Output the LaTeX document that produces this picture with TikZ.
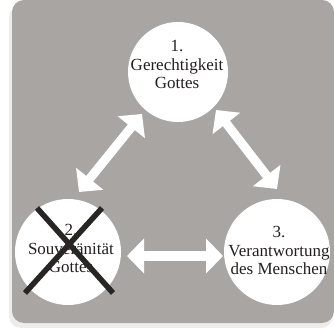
\documentclass[tikz,border=0pt]{standalone}
\usepackage{fontspec}
\setmainfont{Liberation Serif}
\usetikzlibrary{arrows.meta}
\definecolor{cardgray}{HTML}{A9A5A2}
\definecolor{shadowgray}{HTML}{EDECEB}
\definecolor{inkdark}{HTML}{231F20}
\definecolor{crossdark}{HTML}{2A2525}
\begin{document}
\begin{tikzpicture}[x=1pt,y=-1pt,
  disc/.style={circle,fill=white,inner sep=0pt},
  lbl/.style={align=center,text=inkdark,font=\fontsize{17}{18.5}\selectfont,inner sep=0pt},
  dblarrow/.style={white,line width=9pt,{Triangle[length=17pt,width=34pt]}-{Triangle[length=17pt,width=34pt]}},
  crossline/.style={crossdark,line width=5.5pt}]
\useasboundingbox (0,0) rectangle (334,328);
\fill[shadowgray, rounded corners=12pt] (9,6) rectangle (333,328);
\fill[cardgray, rounded corners=12pt] (12,0) rectangle (334,323);
% circles
\node[disc,minimum size=100pt] (top) at (178,72) {};
\node[disc,minimum size=106pt] (left) at (68,252) {};
\node[disc,minimum size=106pt] (right) at (277,252) {};
% labels
\node[lbl] (t1) at (177,64.5) {1.\\Gerechtigkeit\\Gottes};
\node[lbl] (t2) at (71,248.5) {2.\\Souveränität\\Gottes};
\node[lbl] (t3) at (279,250.5) {3.\\Verantwortung\\des Menschen};
% arrows
\coordinate (a1) at (79,192); \coordinate (a2) at (142,114);
\coordinate (b1) at (216,110); \coordinate (b2) at (277,189);
\coordinate (c1) at (127,256); \coordinate (c2) at (223,256);
\draw[dblarrow] (a1) -- (a2);
\draw[dblarrow] (b1) -- (b2);
\draw[dblarrow] (c1) -- (c2);
% cross
\coordinate (x1) at (37,208); \coordinate (x2) at (113,293);
\coordinate (x3) at (102,208); \coordinate (x4) at (25,293);
\draw[crossline] (x1) -- (x2);
\draw[crossline] (x3) -- (x4);
\end{tikzpicture}
\end{document}
